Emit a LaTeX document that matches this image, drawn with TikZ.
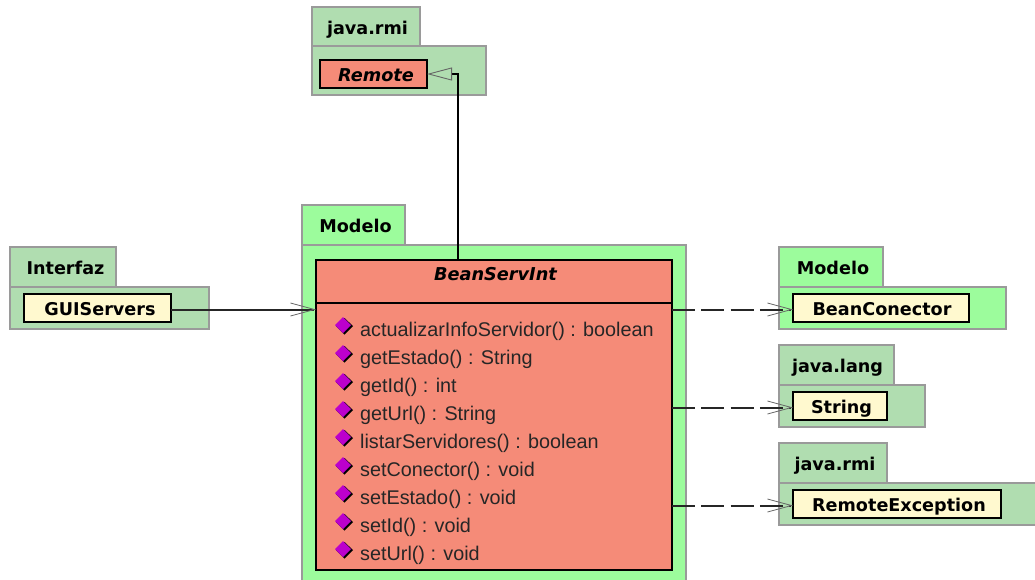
\documentclass[tikz,border=0pt]{standalone}
\usepackage{fontspec}
\setmainfont{Liberation Sans}
\newfontfamily\djv{DejaVu Sans}
\usetikzlibrary{arrows.meta}
\definecolor{pkgbright}{HTML}{9CFC9C}
\definecolor{pkgpale}{HTML}{B0DDB0}
\definecolor{clsred}{HTML}{F58B78}
\definecolor{clscream}{HTML}{FFF9CF}
\definecolor{pkgedge}{HTML}{9A9A9A}
\definecolor{methodicon}{HTML}{BC00CC}
\tikzset{
  box/.style={draw, anchor=north west, inner sep=0pt, outer sep=0pt, text height=15pt, text depth=0pt, align=center},
  pkgbox/.style={box, draw=pkgedge, line width=1.5pt},
  classbox/.style={box, draw=black, line width=1.4pt},
  boldtext/.style={font=\djv\fontsize{17.6}{20}\selectfont\bfseries},
  italictext/.style={font=\djv\fontsize{17.7}{20}\selectfont\bfseries\itshape},
  methodtext/.style={font=\fontsize{19.8}{22}\selectfont, anchor=west, inner sep=0pt, text height=14pt, text depth=4pt, text=black!85},
  deplink/.style={line width=2pt, draw=black!85, -{Straight Barb[length=24pt,width=13pt,line width=0pt 0.4,color=black!60]}},
  dashedlink/.style={deplink, dash pattern=on 23pt off 6.3pt},
  inherit/.style={line width=1.3pt, draw=black, -{Triangle[open,length=25pt,width=13pt,line width=.9pt,color=black!60]}},
}
\begin{document}
\begin{tikzpicture}[x=1pt,y=-1pt]
\useasboundingbox (0,0) rectangle (1035,579);
\clip (0,0) rectangle (1035,579);
% java.rmi (top)
\node[pkgbox, boldtext, fill=pkgpale, minimum width=108pt, minimum height=39pt] (rmitab) at (312,7) {\hspace{3pt}java.rmi};
\node[pkgbox, fill=pkgpale, minimum width=174pt, minimum height=49pt] (rmibody) at (312,46) {};
\node[classbox, fill=clsred, minimum width=107pt, minimum height=28pt] (remote) at (320,60) {};
\node[italictext, anchor=center, inner sep=0pt] (remotename) at (376,75) {Remote};
% Modelo (centre)
\node[pkgbox, boldtext, fill=pkgbright, minimum width=103pt, minimum height=40pt] (modtab) at (302,205) {\hspace{4pt}Modelo};
\node[pkgbox, fill=pkgbright, minimum width=384pt, minimum height=345pt] (modbody) at (302,245) {};
\node[classbox, fill=clsred, minimum width=356pt, minimum height=310pt] (cls) at (316,260) {};
\node[italictext, anchor=center, inner sep=0pt] (clsname) at (495.5,274.5) {BeanServInt};
\coordinate (divl) at (316,303);
\draw[line width=1.2pt] (divl) -- (divl -| cls.east);
% methods
\foreach \i/\t in {0/actualizarInfoServidor() : boolean, 1/getEstado() : String, 2/getId() : int, 3/getUrl() : String, 4/listarServidores() : boolean, 5/setConector() : void, 6/setEstado() : void, 7/setId() : void, 8/setUrl() : void}{
  \pgfmathsetmacro{\yy}{331+28*\i}
  \fill[black] (344.5,{\yy-13}) -- (353,{\yy-5}) -- (344.5,{\yy+3.5}) -- (336,{\yy-5}) -- cycle;
  \fill[methodicon] (343,{\yy-14}) -- (351,{\yy-6}) -- (343,{\yy+2}) -- (335,{\yy-6}) -- cycle;
  \node[methodtext] (m\i) at (360,\yy) {\t};
}
% Interfaz
\node[pkgbox, boldtext, fill=pkgpale, minimum width=106pt, minimum height=40pt] (inttab) at (10,247) {\hspace{5pt}Interfaz};
\node[pkgbox, fill=pkgpale, minimum width=199pt, minimum height=42pt] (intbody) at (10,287) {};
\node[classbox, boldtext, fill=clscream, minimum width=147pt, minimum height=28pt] (gui) at (24,294) {\hspace{5pt}GUIServers};
% Modelo (right)
\node[pkgbox, boldtext, fill=pkgbright, minimum width=104pt, minimum height=40pt] (mrtab) at (779,247) {\hspace{4pt}Modelo};
\node[pkgbox, fill=pkgbright, minimum width=227pt, minimum height=42pt] (mrbody) at (779,287) {};
\node[classbox, boldtext, fill=clscream, minimum width=176pt, minimum height=28pt] (conector) at (793,294) {\hspace{2pt}BeanConector};
% java.lang
\node[pkgbox, boldtext, fill=pkgpale, minimum width=115pt, minimum height=40pt] (langtab) at (779,345) {\hspace{2pt}java.lang};
\node[pkgbox, fill=pkgpale, minimum width=146pt, minimum height=42pt] (langbody) at (779,385) {};
\node[classbox, boldtext, fill=clscream, minimum width=94pt, minimum height=28pt] (string) at (793,392) {\hspace{3pt}String};
% java.rmi (right)
\node[pkgbox, boldtext, fill=pkgpale, minimum width=108pt, minimum height=40pt] (rxtab) at (779,443) {\hspace{4pt}java.rmi};
\node[pkgbox, fill=pkgpale, minimum width=280pt, minimum height=42pt] (rxbody) at (779,483) {};
\node[classbox, boldtext, fill=clscream, minimum width=208pt, minimum height=28pt] (rexc) at (793,490) {\hspace{4pt}RemoteException};
% connectors
\draw[inherit] ([xshift=-36pt]cls.north) |- (remote.east);
\draw[deplink] ([yshift=-1.5pt]gui.east) -- ([yshift=-1.5pt]gui.east -| cls.west);
\draw[dashedlink] ([yshift=-1.5pt]conector.west -| cls.east) -- ([yshift=-1.5pt]conector.west);
\draw[dashedlink] ([yshift=-1.5pt]string.west -| cls.east) -- ([yshift=-1.5pt]string.west);
\draw[dashedlink] ([yshift=-1.5pt]rexc.west -| cls.east) -- ([yshift=-1.5pt]rexc.west);
\end{tikzpicture}
\end{document}
